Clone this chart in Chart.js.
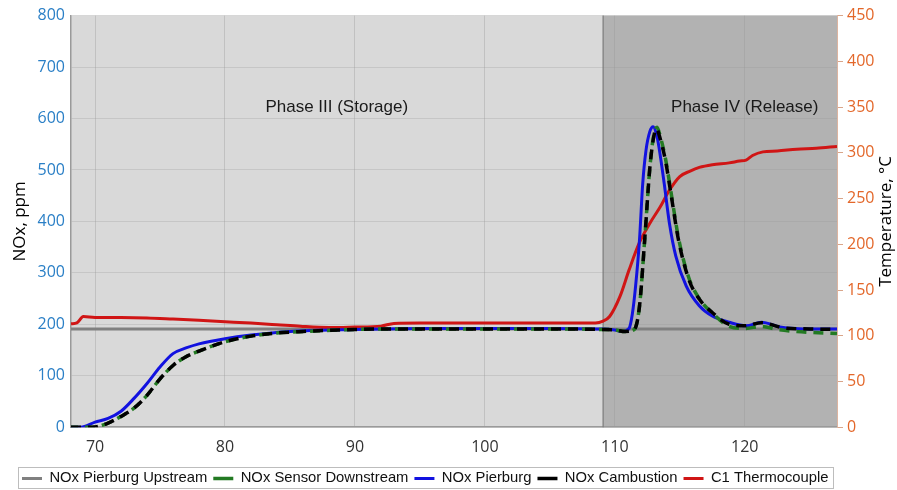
<!DOCTYPE html>
<html><head><meta charset="utf-8">
<script src="https://cdn.jsdelivr.net/npm/chart.js@4/dist/chart.umd.min.js"></script>
<style>html,body{margin:0;padding:0;background:#fff}#wrap{width:897px;height:490px}</style>
</head><body><div id="wrap"><canvas id="c" width="897" height="490"></canvas></div>
<script>
// ---- data ----
const upstreamX = [68.15, 127.1];
const upstreamY = [191, 191];

const pierburgX = [68.15, 68.9, 70, 71, 72, 73, 74, 75, 76, 77, 78, 80, 82, 85, 90, 95, 100, 105, 109, 110, 110.6, 111.1, 111.35, 111.6, 111.9, 112.15, 112.4, 112.7, 112.95, 113.2, 113.4, 113.8, 114.2, 114.7, 115.5, 116.5, 117.5, 118.8, 120.1, 121.3, 122.7, 125.2, 127.1];
const pierburgY = [0, 0, 10, 17, 31, 56, 85, 117, 143, 154, 162, 172, 179, 186, 190, 192, 192, 192, 191, 189, 186, 192, 220, 274, 364, 474, 538, 575, 584, 570, 544, 474, 397, 332, 274, 236, 216, 204, 197, 204, 195, 191, 191];

const cambX = [68.15, 69.8, 71, 72, 73, 74, 75, 76, 77, 78, 80, 82, 84, 86, 90, 95, 100, 105, 109, 110, 110.8, 111.5, 111.9, 112.3, 112.7, 113.0, 113.2, 113.5, 113.9, 114.4, 114.9, 115.7, 116.5, 117.5, 118.8, 120, 121.3, 123, 125, 127.1];
const cambY = [0, 0, 8, 21, 37, 62, 94, 120, 137, 148, 166, 177, 183, 186, 190, 191, 191, 191, 190, 189, 186, 190, 235, 364, 505, 565, 580, 560, 518, 441, 364, 287, 249, 223, 200, 197, 203, 193, 191, 190];

const sensorX = [68.15, 69.8, 71, 72, 73, 74, 75, 76, 77, 78, 80, 82, 84, 86, 90, 95, 100, 105, 109, 110, 110.8, 111.5, 111.9, 112.3, 112.7, 113.0, 113.25, 113.5, 113.9, 114.4, 114.9, 115.7, 116.5, 117.5, 118.8, 120, 121.3, 122.5, 124, 127.1];
const sensorY = [0, 0, 8, 21, 37, 62, 94, 120, 137, 148, 166, 177, 183, 186, 190, 191, 191, 191, 190, 189, 186, 190, 235, 364, 505, 568, 583, 565, 522, 445, 368, 290, 250, 222, 196, 192, 196, 190, 186, 182];

const tempX = [68.15, 68.6, 69.1, 70, 72, 74, 76, 78, 80, 82, 84, 85.8, 88, 90, 92, 93, 95, 100, 105, 108.5, 109.1, 109.6, 110.4, 111.1, 111.9, 112.7, 113.5, 114.2, 115.0, 115.8, 116.5, 117.5, 118.8, 119.6, 120.1, 120.6, 121.4, 122.5, 124, 125.5, 127.1];
const tempY = [113, 114, 121, 120, 120, 119.5, 118.2, 116.8, 115.3, 113.8, 112, 110.3, 109, 109.5, 110.5, 113.5, 114, 114, 114, 114, 116, 121, 143, 172, 202, 223, 241, 259, 274, 280, 284, 287, 289, 291, 292, 297, 301, 302, 304, 305, 307];

const xTicks = [70, 80, 90, 100, 110, 120];
const phaseSplit = 109.1;
const phaseLabels = ['Phase III (Storage)', 'Phase IV (Release)'];
const phaseLabelX = [88.6, 120.0];
const legendNames = ['NOx Pierburg Upstream', 'NOx Sensor Downstream', 'NOx Pierburg', 'NOx Cambustion', 'C1 Thermocouple'];

const pts = (xs, ys) => xs.map((x, i) => ({x, y: ys[i]}));

const bgPlugin = {
  id: 'bg',
  afterLayout(chart) {
    const lg = chart.legend;
    if (lg) {
      const w = lg.right - lg.left;
      lg.left = 16; lg.right = 16 + w;
      const h = lg.bottom - lg.top;
      lg.top = 465; lg.bottom = 465 + h;
    }
  },
  beforeDraw(chart) {
    const {ctx, chartArea: a, scales} = chart;
    const xs = scales.x.getPixelForValue(phaseSplit);
    ctx.save();
    ctx.fillStyle = '#d9d9d9';
    ctx.fillRect(a.left, a.top, xs - a.left, a.bottom - a.top);
    ctx.fillStyle = '#b2b2b2';
    ctx.fillRect(xs, a.top, a.right - xs, a.bottom - a.top);
    ctx.restore();
  },
  beforeDatasetsDraw(chart) {
    const {ctx, chartArea: a, scales} = chart;
    const xs = scales.x.getPixelForValue(phaseSplit);
    ctx.save();
    ctx.strokeStyle = '#7a7a7a';
    ctx.lineWidth = 1.2;
    ctx.beginPath(); ctx.moveTo(xs, a.top); ctx.lineTo(xs, a.bottom); ctx.stroke();
    ctx.fillStyle = '#1a1a1a';
    ctx.font = '17px "Liberation Sans", Arial, sans-serif';
    ctx.textAlign = 'center'; ctx.textBaseline = 'middle';
    const yy = scales.y.getPixelForValue(621);
    phaseLabels.forEach((t, i) => ctx.fillText(t, scales.x.getPixelForValue(phaseLabelX[i]), yy));
    ctx.restore();
  },
  afterDraw(chart) {
    const {ctx, chartArea: a} = chart;
    ctx.save();
    ctx.translate(886, (a.top + a.bottom) / 2);
    ctx.rotate(-Math.PI / 2);
    ctx.fillStyle = '#000';
    ctx.font = '17px "Open Sans", sans-serif';
    ctx.textAlign = 'center'; ctx.textBaseline = 'middle';
    ctx.fillText('Temperature, °C', 0, 0);
    ctx.restore();
    const lg = chart.legend;
    if (lg && lg.legendHitBoxes && lg.legendHitBoxes.length) {
      const hb = lg.legendHitBoxes;
      const l = Math.min(...hb.map(h => h.left)) - 4;
      const r = Math.max(...hb.map(h => h.left + h.width)) + 4;
      const t = Math.min(...hb.map(h => h.top)) - 4;
      const b = Math.max(...hb.map(h => h.top + h.height)) + 4;
      ctx.save();
      ctx.strokeStyle = '#bdbdbd'; ctx.lineWidth = 1;
      ctx.strokeRect(Math.round(l) + 0.5, Math.round(t) + 0.5, Math.round(r - l), Math.min(Math.round(b - t), chart.height - Math.round(t) - 2));
      ctx.restore();
    }
  }
};

const common = {pointRadius: 0, fill: false, cubicInterpolationMode: 'monotone', tension: 0.4, pointStyle: 'line'};

new Chart(document.getElementById('c'), {
  type: 'line',
  data: {
    datasets: [
      {...common, label: legendNames[0], data: pts(upstreamX, upstreamY), borderColor: '#808080', backgroundColor: '#808080', borderWidth: 3, yAxisID: 'y', order: 5},
      {...common, label: legendNames[1], data: pts(sensorX, sensorY), borderColor: '#237a23', backgroundColor: '#237a23', borderWidth: 3.5, borderDash: [10, 7], borderDashOffset: 3, yAxisID: 'y', order: 2},
      {...common, label: legendNames[2], data: pts(pierburgX, pierburgY), borderColor: '#1212e0', backgroundColor: '#1212e0', borderWidth: 3, yAxisID: 'y', order: 3},
      {...common, label: legendNames[3], data: pts(cambX, cambY), borderColor: '#000000', backgroundColor: '#000000', borderWidth: 3.5, borderDash: [10, 7], yAxisID: 'y', order: 1},
      {...common, label: legendNames[4], data: pts(tempX, tempY), borderColor: '#d01515', backgroundColor: '#d01515', borderWidth: 3, yAxisID: 'y2', order: 4}
    ]
  },
  options: {
    responsive: false,
    animation: false,
    layout: {padding: {top: 14, left: 0, right: 0, bottom: 0}},
    plugins: {
      legend: {
        position: 'bottom',
        align: 'start',
        labels: {
          usePointStyle: true,
          pointStyleWidth: 20,
          boxHeight: 4,
          padding: 6,
          color: '#111',
          sort: (a, b) => a.datasetIndex - b.datasetIndex,
          font: {family: '"Liberation Sans", Arial, sans-serif', size: 14.8}
        }
      },
      tooltip: {enabled: false}
    },
    scales: {
      x: {
        type: 'linear', min: 68.15, max: 127.1,
        afterBuildTicks: s => { s.ticks = xTicks.map(v => ({value: v})); },
        ticks: {includeBounds: false, color: '#333', font: {family: '"Open Sans", sans-serif', size: 16}, padding: 11, maxRotation: 0},
        grid: {color: 'rgba(150,150,150,0.35)', drawTicks: false},
        border: {color: '#9a9a9a', width: 1.5},
        afterFit: s => { s.height = 32; }
      },
      y: {
        position: 'left', min: 0, max: 800,
        ticks: {stepSize: 100, color: '#2a7fc6', font: {family: '"Open Sans", sans-serif', size: 16}, padding: 6},
        grid: {color: 'rgba(150,150,150,0.28)', drawTicks: false},
        border: {color: '#9a9a9a', width: 1.5},
        title: {display: true, text: 'NOx, ppm', color: '#000', font: {family: '"Open Sans", sans-serif', size: 17}, padding: {top: 10, bottom: 4}},
        afterFit: s => { s.width = 71; }
      },
      y2: {
        position: 'right', min: 0, max: 450,
        ticks: {stepSize: 50, color: '#e3672a', font: {family: '"Open Sans", sans-serif', size: 16}, padding: 4},
        grid: {drawOnChartArea: false, color: '#d9a58a', tickLength: 6},
        border: {color: '#dcb4a0', width: 1},
        afterFit: s => { s.width = 60; }
      }
    }
  },
  plugins: [bgPlugin]
});
</script></body></html>
